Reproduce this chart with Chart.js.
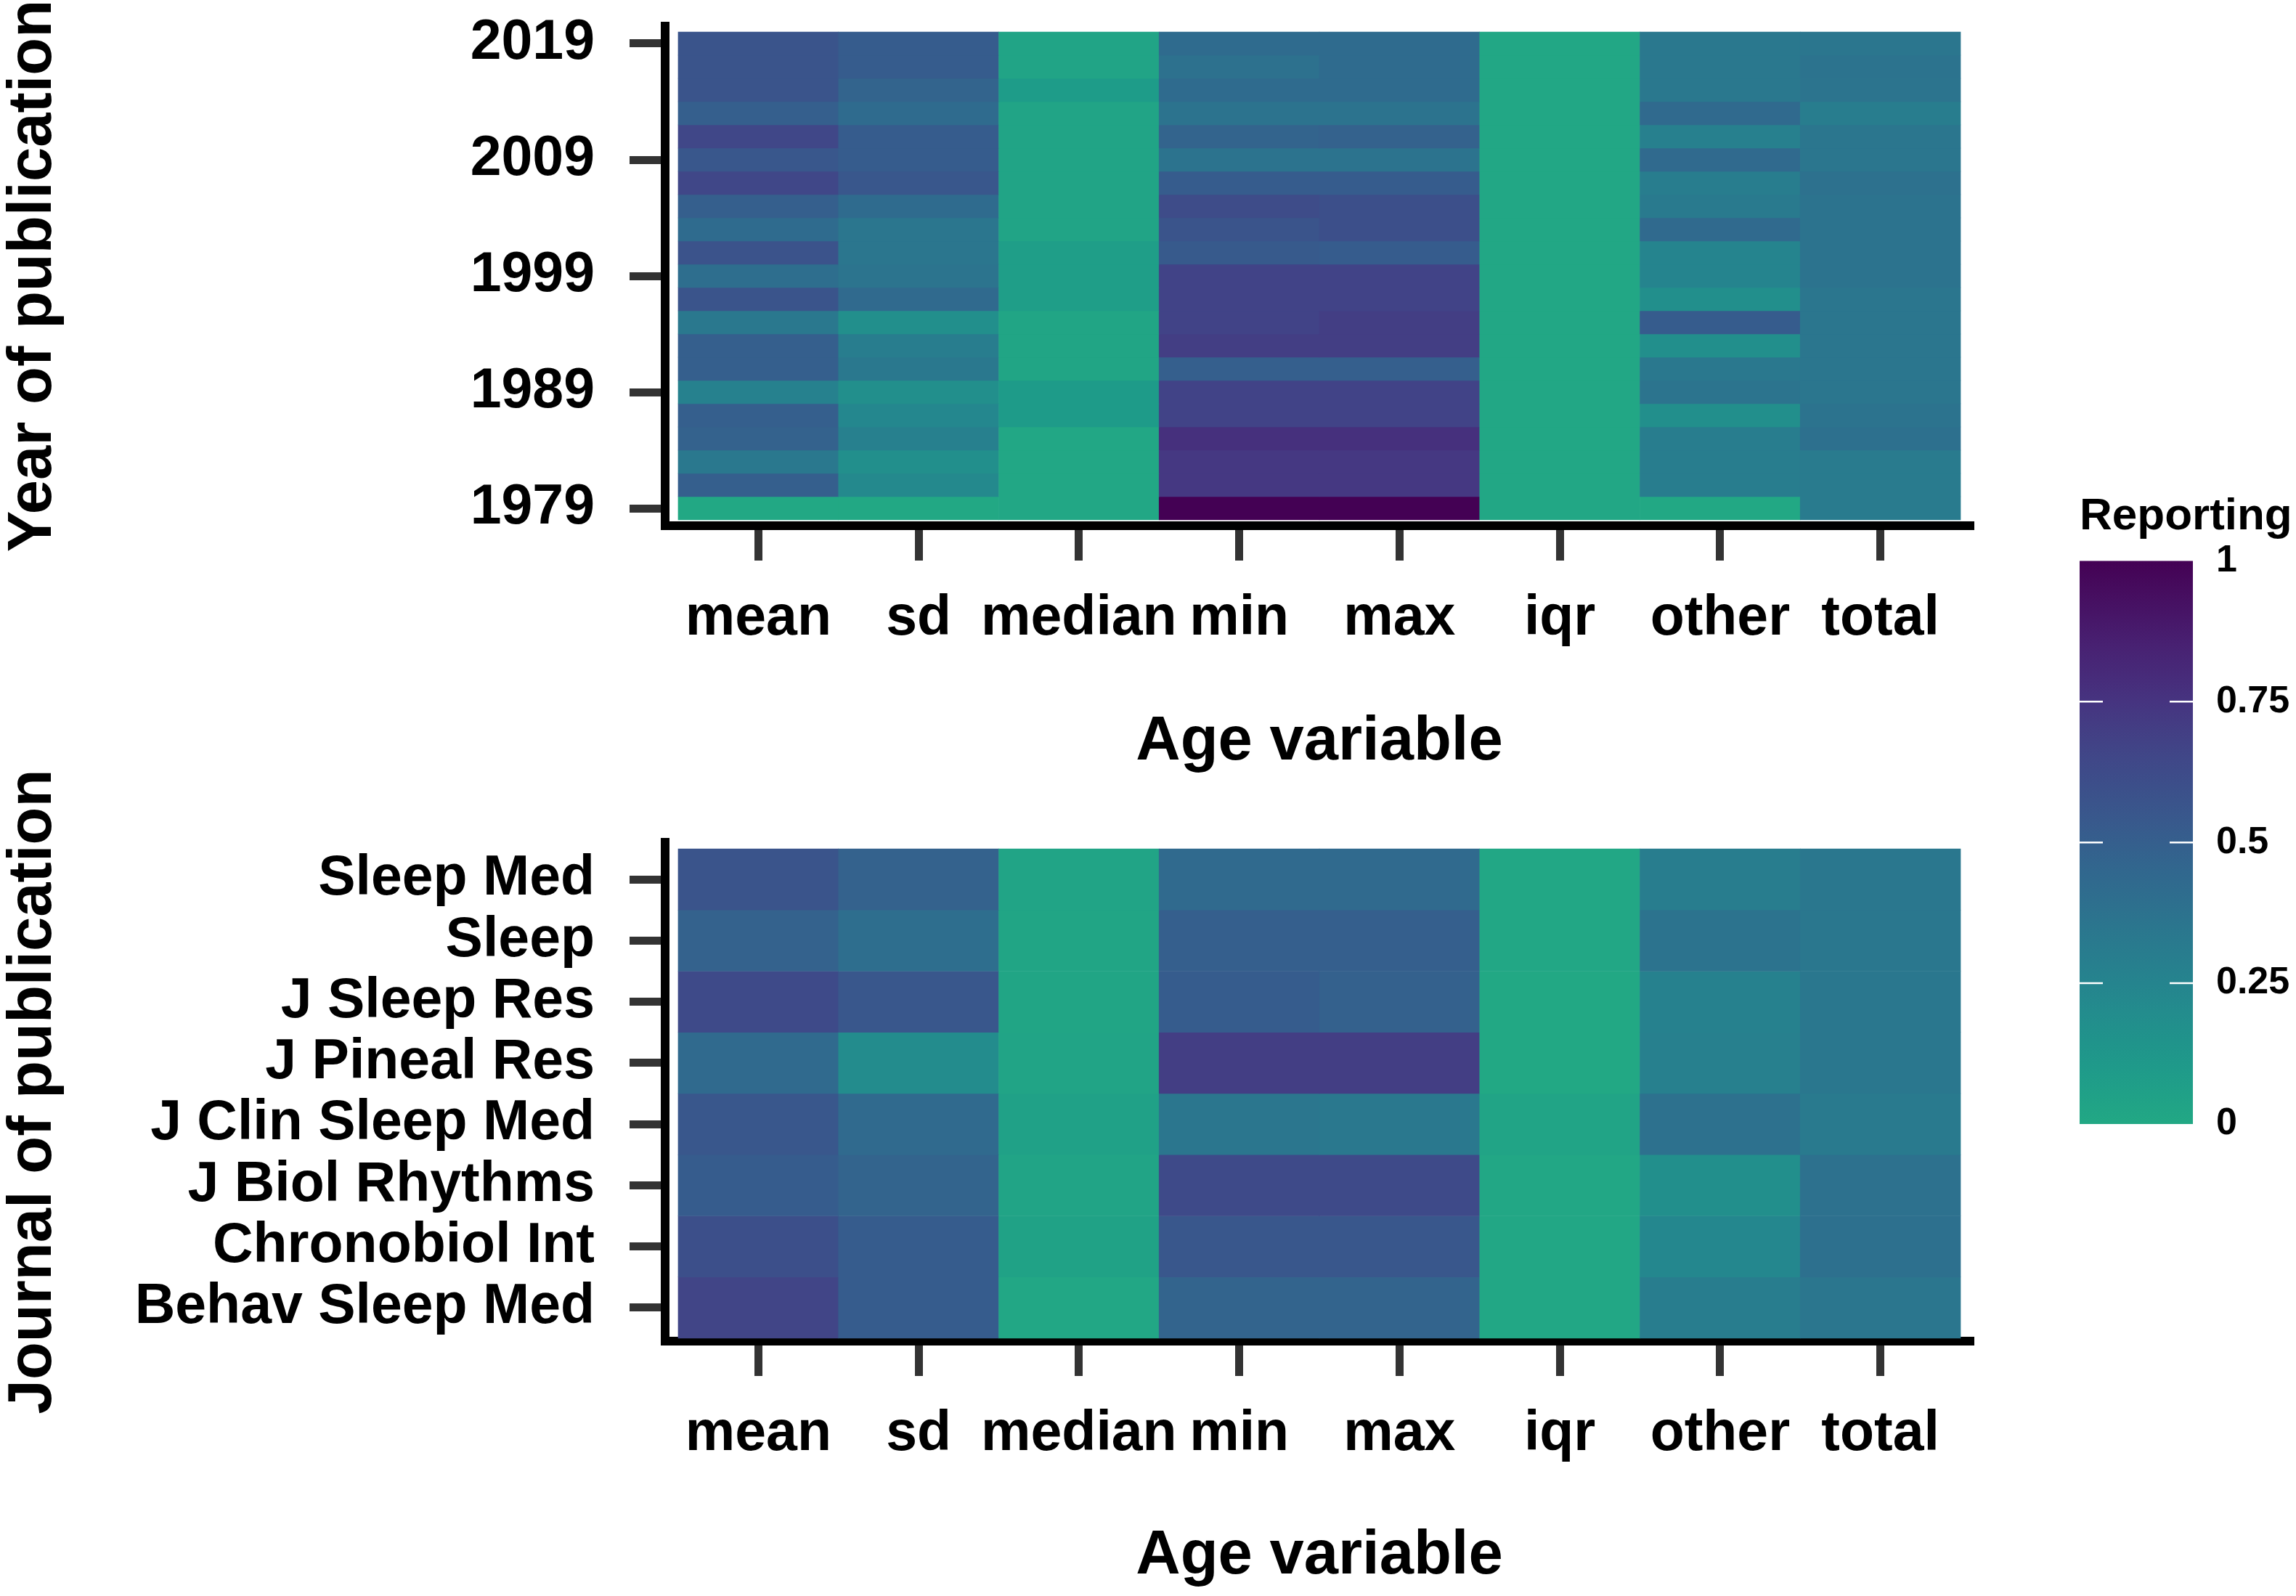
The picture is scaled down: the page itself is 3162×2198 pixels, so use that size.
<!DOCTYPE html>
<html lang="en">
<head>
<meta charset="UTF-8">
<title>Age variable reporting</title>
<script src="https://cdn.jsdelivr.net/npm/chart.js@4.4.1/dist/chart.umd.min.js"></script>
<style>
    body {
        margin: 0;
        background: #fff;
        width: 3162px;
        height: 2198px;
        overflow: hidden;
        position: relative;
    }
    canvas { position: absolute; }
    #yearChart { left: 0; top: 0; }
    #journalChart { left: 0; top: 1000px; }
    #legendChart { left: 2858px; top: 660px; }
</style>
</head>
<body>
<canvas id="yearChart" width="2760" height="1100"></canvas>
<canvas id="journalChart" width="2760" height="1198"></canvas>
<canvas id="legendChart" width="304" height="940"></canvas>

<script>
// ---- data ----
const ageVars = ['mean', 'sd', 'median', 'min', 'max', 'iqr', 'other', 'total'];

// top panel rows, newest first
const years = [2019, 2017, 2015, 2013, 2011, 2009, 2007, 2005, 2003, 2001, 1999,
               1997, 1995, 1993, 1991, 1989, 1987, 1985, 1983, 1981, 1979];
const yearTicks = [1979, 1989, 1999, 2009, 2019];

const yearMean   = [0.57, 0.57, 0.57, 0.50, 0.65, 0.55, 0.65, 0.50, 0.42, 0.58, 0.40, 0.57, 0.33, 0.50, 0.50, 0.27, 0.50, 0.48, 0.33, 0.50, 0.00];
const yearSd     = [0.52, 0.52, 0.47, 0.42, 0.52, 0.52, 0.55, 0.42, 0.35, 0.35, 0.36, 0.43, 0.18, 0.30, 0.33, 0.18, 0.23, 0.28, 0.18, 0.22, 0.00];
const yearMedian = [0.03, 0.03, 0.08, 0.03, 0.03, 0.03, 0.03, 0.03, 0.03, 0.07, 0.07, 0.07, 0.02, 0.02, 0.02, 0.09, 0.09, 0.01, 0.01, 0.01, 0.01];
const yearMin    = [0.42, 0.38, 0.42, 0.37, 0.47, 0.37, 0.52, 0.62, 0.57, 0.53, 0.67, 0.67, 0.67, 0.70, 0.50, 0.67, 0.67, 0.77, 0.73, 0.73, 1.00];
const yearMax    = [0.42, 0.42, 0.42, 0.37, 0.48, 0.37, 0.52, 0.60, 0.60, 0.52, 0.67, 0.67, 0.70, 0.70, 0.50, 0.67, 0.67, 0.77, 0.73, 0.73, 1.00];
const yearIqr    = [0.01, 0.01, 0.01, 0.01, 0.01, 0.01, 0.01, 0.01, 0.01, 0.01, 0.01, 0.01, 0.01, 0.01, 0.01, 0.01, 0.01, 0.01, 0.01, 0.01, 0.01];
const yearOther  = [0.33, 0.33, 0.33, 0.43, 0.28, 0.43, 0.30, 0.32, 0.43, 0.25, 0.25, 0.18, 0.52, 0.18, 0.33, 0.36, 0.18, 0.30, 0.30, 0.30, 0.00];
const yearTotal  = [0.35, 0.37, 0.36, 0.30, 0.35, 0.35, 0.38, 0.37, 0.37, 0.37, 0.37, 0.35, 0.35, 0.35, 0.35, 0.35, 0.37, 0.39, 0.31, 0.31, 0.31];

// bottom panel rows, top to bottom
const journals = ['Sleep Med', 'Sleep', 'J Sleep Res', 'J Pineal Res',
                  'J Clin Sleep Med', 'J Biol Rhythms', 'Chronobiol Int', 'Behav Sleep Med'];

const journalMean   = [0.57, 0.48, 0.63, 0.43, 0.55, 0.52, 0.60, 0.66];
const journalSd     = [0.48, 0.40, 0.55, 0.20, 0.43, 0.47, 0.52, 0.52];
const journalMedian = [0.03, 0.02, 0.02, 0.03, 0.05, 0.03, 0.04, 0.01];
const journalMin    = [0.43, 0.50, 0.52, 0.70, 0.35, 0.63, 0.55, 0.47];
const journalMax    = [0.43, 0.50, 0.49, 0.70, 0.33, 0.63, 0.55, 0.47];
const journalIqr    = [0.01, 0.01, 0.00, 0.00, 0.03, 0.01, 0.01, 0.01];
const journalOther  = [0.30, 0.37, 0.27, 0.28, 0.38, 0.18, 0.23, 0.30];
const journalTotal  = [0.34, 0.34, 0.34, 0.34, 0.32, 0.38, 0.39, 0.35];

const legendTicks = [0, 0.25, 0.5, 0.75, 1];

// ---- colour scale: viridis, 0 -> teal green, 1 -> dark purple ----
const viridis = ['#440154', '#471365', '#482475', '#463480', '#414487', '#3b528b', '#355f8d',
                 '#2f6c8e', '#2a788e', '#25848e', '#21918c', '#1e9c89', '#22a884'];

function hexToRgb(h) {
    return [parseInt(h.slice(1, 3), 16), parseInt(h.slice(3, 5), 16), parseInt(h.slice(5, 7), 16)];
}

function reportColor(v) {
    const t = Math.min(Math.max(1 - v, 0), 1) * (viridis.length - 1);
    const i = Math.min(Math.floor(t), viridis.length - 2);
    const f = t - i;
    const a = hexToRgb(viridis[i]), b = hexToRgb(viridis[i + 1]);
    const c = a.map((x, k) => Math.round(x + (b[k] - x) * f));
    return `rgb(${c[0]}, ${c[1]}, ${c[2]})`;
}

// ---- shared styling ----
const FONT = "'Liberation Sans', Arial, Helvetica, sans-serif";
Chart.defaults.font.family = FONT;
Chart.defaults.color = '#000';

const tickFont = { size: 77, weight: 'bold' };
const titleFont = { size: 85, weight: 'bold', lineHeight: 1 };

function heatmap(canvasId, opts) {
    const datasets = opts.rows.map((row, r) => ({
        data: ageVars.map((_, c) => ({ x: c, y: opts.span(r) })),
        backgroundColor: opts.columns.map(col => reportColor(col[r])),
        borderWidth: 0,
        grouped: false,
        barPercentage: 1,
        categoryPercentage: 1
    }));

    return new Chart(document.getElementById(canvasId), {
        type: 'bar',
        data: { datasets },
        options: {
            responsive: false,
            animation: false,
            layout: { padding: { top: opts.top, right: 42, bottom: 0, left: 0 } },
            plugins: { legend: { display: false }, tooltip: { enabled: false } },
            scales: {
                x: {
                    type: 'linear',
                    min: -0.5815,
                    max: 7.5815,
                    offset: false,
                    grid: { offset: false, drawOnChartArea: false, drawTicks: true,
                            tickLength: 48, tickWidth: 11, tickColor: '#333' },
                    border: { display: true, color: '#000', width: 12 },
                    afterBuildTicks: s => { s.ticks = ageVars.map((_, i) => ({ value: i })); },
                    ticks: { font: tickFont, padding: 35, maxRotation: 0, autoSkip: false,
                             callback: v => ageVars[v] },
                    title: { display: true, text: 'Age variable', font: titleFont,
                             padding: { top: 0, bottom: opts.xTitlePad } },
                    afterFit: s => { s.height = opts.xHeight; s.paddingLeft = 0; s.paddingRight = 0; }
                },
                y: {
                    type: 'linear',
                    min: opts.yMin,
                    max: opts.yMax,
                    beginAtZero: false,
                    grid: { drawOnChartArea: false, drawTicks: true,
                            tickLength: 49, tickWidth: 11, tickColor: '#333' },
                    border: { display: true, color: '#000', width: 12 },
                    afterBuildTicks: s => { s.ticks = opts.tickValues.map(v => ({ value: v })); },
                    ticks: { font: tickFont, padding: 48, autoSkip: false, callback: opts.tickLabel },
                    title: { display: true, text: opts.yTitle, font: titleFont,
                             padding: { top: 4, bottom: 0 } },
                    afterFit: s => { s.width = 916; s.paddingTop = 0; s.paddingBottom = 0; }
                }
            }
        }
    });
}

// top panel: year of publication
heatmap('yearChart', {
    rows: years,
    columns: [yearMean, yearSd, yearMedian, yearMin, yearMax, yearIqr, yearOther, yearTotal],
    span: r => [years[r] - 1, years[r] + 1],
    yMin: 1977.5,
    yMax: 2020.5,
    tickValues: yearTicks,
    tickLabel: v => String(v),
    yTitle: 'Year of publication',
    top: 36,
    xHeight: 376,
    xTitlePad: 34.5
});

// bottom panel: journal of publication
heatmap('journalChart', {
    rows: journals,
    columns: [journalMean, journalSd, journalMedian, journalMin, journalMax, journalIqr, journalOther, journalTotal],
    span: r => [journals.length - 1 - r, journals.length - r],
    yMin: -0.047,
    yMax: 8.107,
    tickValues: journals.map((_, r) => journals.length - 0.5 - r),
    tickLabel: v => journals[Math.round(journals.length - 0.5 - v)],
    yTitle: 'Journal of publication',
    top: 160,
    xHeight: 351,
    xTitlePad: 11.5
});

// colour bar legend
const legendMarks = {
    id: 'legendMarks',
    afterDatasetsDraw(chart) {
        const { ctx, chartArea } = chart;
        const y = chart.scales.y;
        ctx.save();
        ctx.strokeStyle = '#fff';
        ctx.lineWidth = 2.5;
        [0.25, 0.5, 0.75].forEach(v => {
            const py = y.getPixelForValue(v);
            ctx.beginPath();
            ctx.moveTo(chartArea.left, py);
            ctx.lineTo(chartArea.left + 32, py);
            ctx.moveTo(chartArea.right - 32, py);
            ctx.lineTo(chartArea.right, py);
            ctx.stroke();
        });
        ctx.restore();
    }
};

new Chart(document.getElementById('legendChart'), {
    type: 'bar',
    data: {
        labels: ['Reporting'],
        datasets: [{
            data: [[0, 1]],
            borderWidth: 0,
            barPercentage: 1,
            categoryPercentage: 1,
            backgroundColor: ctx => {
                const area = ctx.chart.chartArea;
                if (!area) return reportColor(0.5);
                const g = ctx.chart.ctx.createLinearGradient(0, area.bottom, 0, area.top);
                for (let k = 0; k <= 20; k++) g.addColorStop(k / 20, reportColor(k / 20));
                return g;
            }
        }]
    },
    options: {
        responsive: false,
        animation: false,
        layout: { padding: { top: 0, right: 0, bottom: 52, left: 6 } },
        plugins: {
            legend: { display: false },
            tooltip: { enabled: false },
            title: {
                display: true,
                text: 'Reporting',
                align: 'start',
                color: '#000',
                font: { size: 62, weight: 'bold', lineHeight: 1.2 },
                padding: { top: 15, bottom: 23 }
            }
        },
        scales: {
            x: { display: false },
            y: {
                position: 'right',
                min: 0,
                max: 1,
                grid: { display: false, drawTicks: false },
                border: { display: false },
                afterBuildTicks: s => { s.ticks = legendTicks.map(v => ({ value: v })); },
                ticks: { font: { size: 52, weight: 'bold' }, padding: 32, color: '#000',
                         callback: v => String(v) },
                afterFit: s => { s.width = 142; s.paddingTop = 0; s.paddingBottom = 0; }
            }
        }
    },
    plugins: [legendMarks]
});
</script>
</body>
</html>
